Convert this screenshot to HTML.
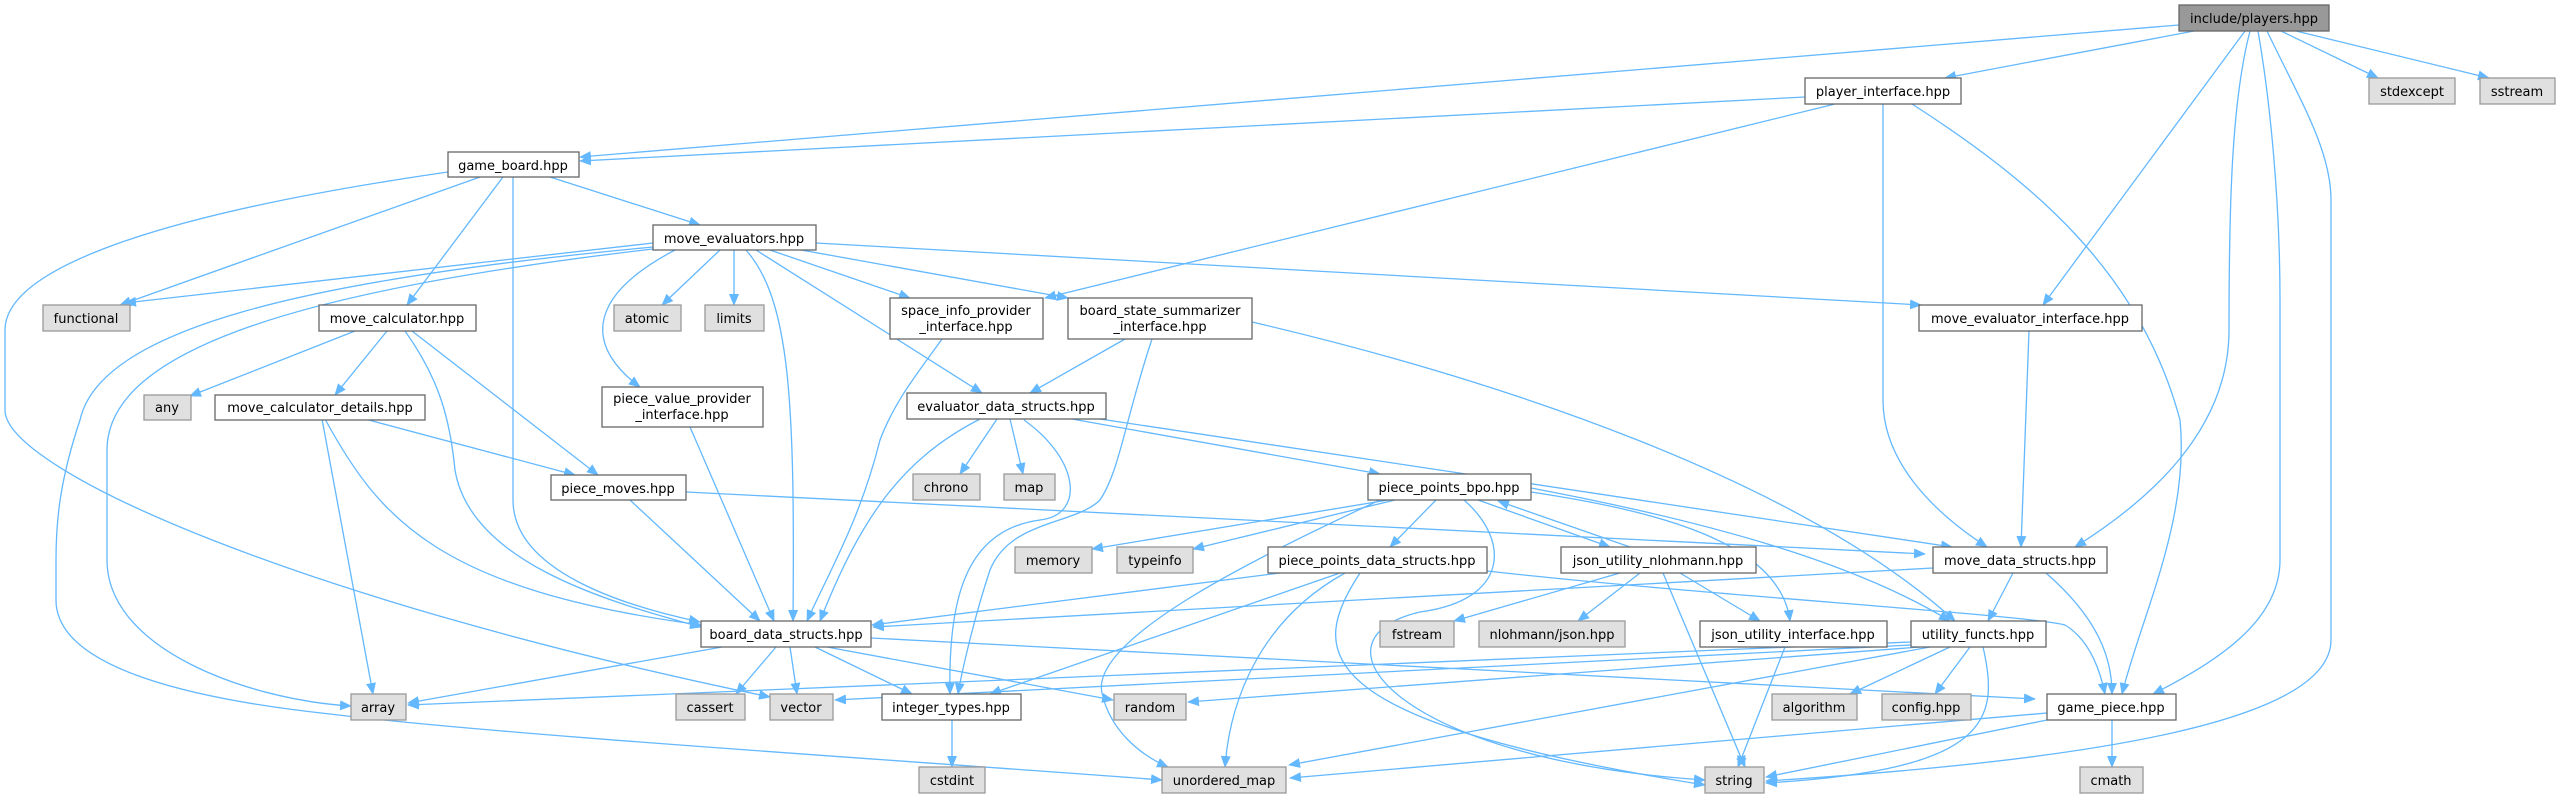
<!DOCTYPE html>
<html><head><meta charset="utf-8"><style>
html,body{margin:0;padding:0;background:#fff;}
svg{display:block;}
text{font-family:"DejaVu Sans","Liberation Sans",sans-serif;font-size:13px;fill:#000;}
.e{fill:none;stroke:#63b8ff;stroke-width:1.3;}
.w{fill:#fff;stroke:#666;stroke-width:1.3;}
.g{fill:#e0e0e0;stroke:#999;stroke-width:1.3;}
.r{fill:#999;stroke:#666;stroke-width:1.3;}
</style></head><body>
<svg width="2560" height="799" viewBox="0 0 2560 799" xmlns="http://www.w3.org/2000/svg">
<defs><marker id="a" markerWidth="12" markerHeight="10" refX="11" refY="5" orient="auto" markerUnits="userSpaceOnUse"><path d="M0,0 L12,5 L0,10 z" fill="#63b8ff"/></marker></defs>
<g class="e" marker-end="url(#a)">
<path d="M2179,25 L580,157"/>
<path d="M2194,31 L1945,78"/>
<path d="M2245,31 L2043,305"/>
<path d="M2250,31 C2232,100 2229,200 2229,330 C2229,430 2150,500 2075,547"/>
<path d="M2258,31 C2270,100 2280,200 2280,300 L2280,560 C2280,620 2220,660 2153,694"/>
<path d="M2267,31 C2300,100 2331,150 2331,200 L2331,640 C2331,720 2100,760 1766,781"/>
<path d="M2281,31 L2378,78"/>
<path d="M2296,31 L2489,78"/>
<path d="M1805,97 L580,161"/>
<path d="M1835,104 L1045,298"/>
<path d="M1883,104 L1883,400 C1883,460 1930,510 1987,547"/>
<path d="M1912,104 C2030,180 2140,270 2180,420 C2190,520 2140,620 2122,694"/>
<path d="M2029,331 L2021,547"/>
<path d="M480,177 L120,305"/>
<path d="M503,177 L407,305"/>
<path d="M513,177 L513,500 C513,570 620,605 700,622"/>
<path d="M550,177 L700,225"/>
<path d="M448,172 C150,215 5,270 5,330 L5,410 C5,470 300,600 770,697"/>
<path d="M653,243 L125,303"/>
<path d="M653,247 C300,280 100,330 80,420 C60,480 56,520 56,560 L56,600 C56,670 200,700 330,714 C500,735 900,760 1162,780"/>
<path d="M653,249 C300,290 107,350 107,450 L107,560 C107,650 250,700 351,706"/>
<path d="M720,250 L662,305"/>
<path d="M734,250 L734,305"/>
<path d="M675,250 C580,300 590,350 640,387"/>
<path d="M746,250 C790,300 795,400 793,621"/>
<path d="M756,250 L982,393"/>
<path d="M770,250 L910,298"/>
<path d="M790,248 L1068,298"/>
<path d="M816,243 L1921,305"/>
<path d="M1252,322 C1500,380 1800,480 1955,621"/>
<path d="M355,331 L190,396"/>
<path d="M387,331 L335,395"/>
<path d="M412,331 L598,475"/>
<path d="M405,331 C440,380 450,420 455,470 C470,560 600,600 701,627"/>
<path d="M322,419 L373,694"/>
<path d="M325,419 C380,520 440,590 701,625"/>
<path d="M365,419 L575,475"/>
<path d="M690,427 L774,621"/>
<path d="M630,500 L760,621"/>
<path d="M686,492 L1925,554"/>
<path d="M942,339 C920,370 895,400 880,440 C860,520 830,570 807,621"/>
<path d="M1125,339 L1030,393"/>
<path d="M1152,339 C1125,420 1120,470 1100,500 C1075,525 1010,520 990,570 C975,615 962,670 958,694"/>
<path d="M997,419 L960,474"/>
<path d="M1010,419 L1023,474"/>
<path d="M980,419 C900,460 860,520 820,621"/>
<path d="M1024,420 C1080,460 1085,515 1040,520 C965,530 948,600 950,694"/>
<path d="M1072,419 L1380,474"/>
<path d="M1100,419 L1952,547"/>
<path d="M1388,500 L1092,549"/>
<path d="M1395,500 L1193,549"/>
<path d="M1436,500 L1390,547"/>
<path d="M1380,500 C1250,560 1090,640 1102,693 C1110,730 1140,755 1168,767"/>
<path d="M1464,500 C1510,540 1510,600 1420,612 C1300,640 1400,760 1705,780"/>
<path d="M1478,500 L1610,547"/>
<path d="M1630,547 L1498,501"/>
<path d="M1531,492 C1650,510 1780,540 1790,621"/>
<path d="M1531,488 C1700,520 1850,560 1950,621"/>
<path d="M1280,573 L872,625"/>
<path d="M1340,573 L990,694"/>
<path d="M1345,573 C1260,620 1230,700 1225,767"/>
<path d="M1360,573 C1310,650 1300,720 1705,785"/>
<path d="M1487,571 C1700,595 2030,615 2065,625 C2090,640 2100,670 2105,694"/>
<path d="M1620,573 L1454,621"/>
<path d="M1640,573 L1578,621"/>
<path d="M1680,573 L1760,621"/>
<path d="M1663,573 L1745,767"/>
<path d="M1933,568 L873,627"/>
<path d="M2013,573 L1988,621"/>
<path d="M2046,573 C2100,620 2112,660 2112,694"/>
<path d="M1785,647 L1738,767"/>
<path d="M1911,642 L408,705"/>
<path d="M1911,645 L835,700"/>
<path d="M1920,647 L1188,702"/>
<path d="M1930,647 L1289,765"/>
<path d="M1950,647 L1850,694"/>
<path d="M1970,647 L1935,694"/>
<path d="M1983,647 C2000,720 1990,770 1766,783"/>
<path d="M722,647 L408,703"/>
<path d="M776,647 L736,694"/>
<path d="M790,647 L797,694"/>
<path d="M815,647 L912,694"/>
<path d="M827,647 L1113,700"/>
<path d="M871,638 L2035,699"/>
<path d="M952,720 L952,767"/>
<path d="M2112,720 L2112,767"/>
<path d="M2047,720 L1766,777"/>
<path d="M2047,713 L1290,778"/>
</g>
<g>
<rect class="r" x="2179" y="5" width="150" height="26"/><text x="2254" y="23" text-anchor="middle">include/players.hpp</text>
<rect class="w" x="1805" y="78" width="156" height="26"/><text x="1883" y="96" text-anchor="middle">player_interface.hpp</text>
<rect class="g" x="2369" y="78" width="86" height="26"/><text x="2412" y="96" text-anchor="middle">stdexcept</text>
<rect class="g" x="2480" y="78" width="75" height="26"/><text x="2517" y="96" text-anchor="middle">sstream</text>
<rect class="w" x="448" y="152" width="131" height="25"/><text x="513" y="170" text-anchor="middle">game_board.hpp</text>
<rect class="w" x="653" y="225" width="163" height="25"/><text x="734" y="243" text-anchor="middle">move_evaluators.hpp</text>
<rect class="g" x="43" y="305" width="87" height="26"/><text x="86" y="323" text-anchor="middle">functional</text>
<rect class="w" x="319" y="305" width="157" height="26"/><text x="397" y="323" text-anchor="middle">move_calculator.hpp</text>
<rect class="g" x="614" y="305" width="67" height="26"/><text x="647" y="323" text-anchor="middle">atomic</text>
<rect class="g" x="705" y="305" width="59" height="26"/><text x="734" y="323" text-anchor="middle">limits</text>
<rect class="w" x="890" y="298" width="153" height="41"/><text x="966" y="315" text-anchor="middle">space_info_provider</text><text x="966" y="331" text-anchor="middle">_interface.hpp</text>
<rect class="w" x="1068" y="298" width="184" height="41"/><text x="1160" y="315" text-anchor="middle">board_state_summarizer</text><text x="1160" y="331" text-anchor="middle">_interface.hpp</text>
<rect class="w" x="1919" y="305" width="223" height="26"/><text x="2030" y="323" text-anchor="middle">move_evaluator_interface.hpp</text>
<rect class="g" x="144" y="395" width="47" height="25"/><text x="167" y="412" text-anchor="middle">any</text>
<rect class="w" x="215" y="395" width="210" height="25"/><text x="320" y="412" text-anchor="middle">move_calculator_details.hpp</text>
<rect class="w" x="602" y="387" width="161" height="40"/><text x="682" y="403" text-anchor="middle">piece_value_provider</text><text x="682" y="419" text-anchor="middle">_interface.hpp</text>
<rect class="w" x="907" y="393" width="199" height="26"/><text x="1006" y="411" text-anchor="middle">evaluator_data_structs.hpp</text>
<rect class="w" x="551" y="475" width="135" height="25"/><text x="618" y="493" text-anchor="middle">piece_moves.hpp</text>
<rect class="g" x="913" y="474" width="67" height="26"/><text x="946" y="492" text-anchor="middle">chrono</text>
<rect class="g" x="1004" y="474" width="51" height="26"/><text x="1029" y="492" text-anchor="middle">map</text>
<rect class="w" x="1368" y="474" width="163" height="26"/><text x="1449" y="492" text-anchor="middle">piece_points_bpo.hpp</text>
<rect class="g" x="1015" y="547" width="77" height="26"/><text x="1053" y="565" text-anchor="middle">memory</text>
<rect class="g" x="1117" y="547" width="76" height="26"/><text x="1155" y="565" text-anchor="middle">typeinfo</text>
<rect class="w" x="1268" y="547" width="219" height="26"/><text x="1377" y="565" text-anchor="middle">piece_points_data_structs.hpp</text>
<rect class="w" x="1561" y="547" width="195" height="26"/><text x="1658" y="565" text-anchor="middle">json_utility_nlohmann.hpp</text>
<rect class="w" x="1933" y="547" width="174" height="26"/><text x="2020" y="565" text-anchor="middle">move_data_structs.hpp</text>
<rect class="w" x="701" y="621" width="170" height="26"/><text x="786" y="639" text-anchor="middle">board_data_structs.hpp</text>
<rect class="g" x="1380" y="621" width="74" height="26"/><text x="1417" y="639" text-anchor="middle">fstream</text>
<rect class="g" x="1479" y="621" width="146" height="26"/><text x="1552" y="639" text-anchor="middle">nlohmann/json.hpp</text>
<rect class="w" x="1700" y="621" width="187" height="26"/><text x="1793" y="639" text-anchor="middle">json_utility_interface.hpp</text>
<rect class="w" x="1911" y="621" width="135" height="26"/><text x="1978" y="639" text-anchor="middle">utility_functs.hpp</text>
<rect class="g" x="351" y="694" width="55" height="26"/><text x="378" y="712" text-anchor="middle">array</text>
<rect class="g" x="676" y="694" width="69" height="26"/><text x="710" y="712" text-anchor="middle">cassert</text>
<rect class="g" x="770" y="694" width="63" height="26"/><text x="801" y="712" text-anchor="middle">vector</text>
<rect class="w" x="882" y="694" width="139" height="26"/><text x="951" y="712" text-anchor="middle">integer_types.hpp</text>
<rect class="g" x="1114" y="694" width="72" height="26"/><text x="1150" y="712" text-anchor="middle">random</text>
<rect class="g" x="1772" y="694" width="85" height="26"/><text x="1814" y="712" text-anchor="middle">algorithm</text>
<rect class="g" x="1882" y="694" width="89" height="26"/><text x="1926" y="712" text-anchor="middle">config.hpp</text>
<rect class="w" x="2047" y="694" width="129" height="26"/><text x="2111" y="712" text-anchor="middle">game_piece.hpp</text>
<rect class="g" x="919" y="767" width="66" height="26"/><text x="952" y="785" text-anchor="middle">cstdint</text>
<rect class="g" x="1162" y="767" width="124" height="26"/><text x="1224" y="785" text-anchor="middle">unordered_map</text>
<rect class="g" x="1705" y="767" width="59" height="26"/><text x="1734" y="785" text-anchor="middle">string</text>
<rect class="g" x="2080" y="767" width="63" height="26"/><text x="2111" y="785" text-anchor="middle">cmath</text>
</g>
</svg>
</body></html>
